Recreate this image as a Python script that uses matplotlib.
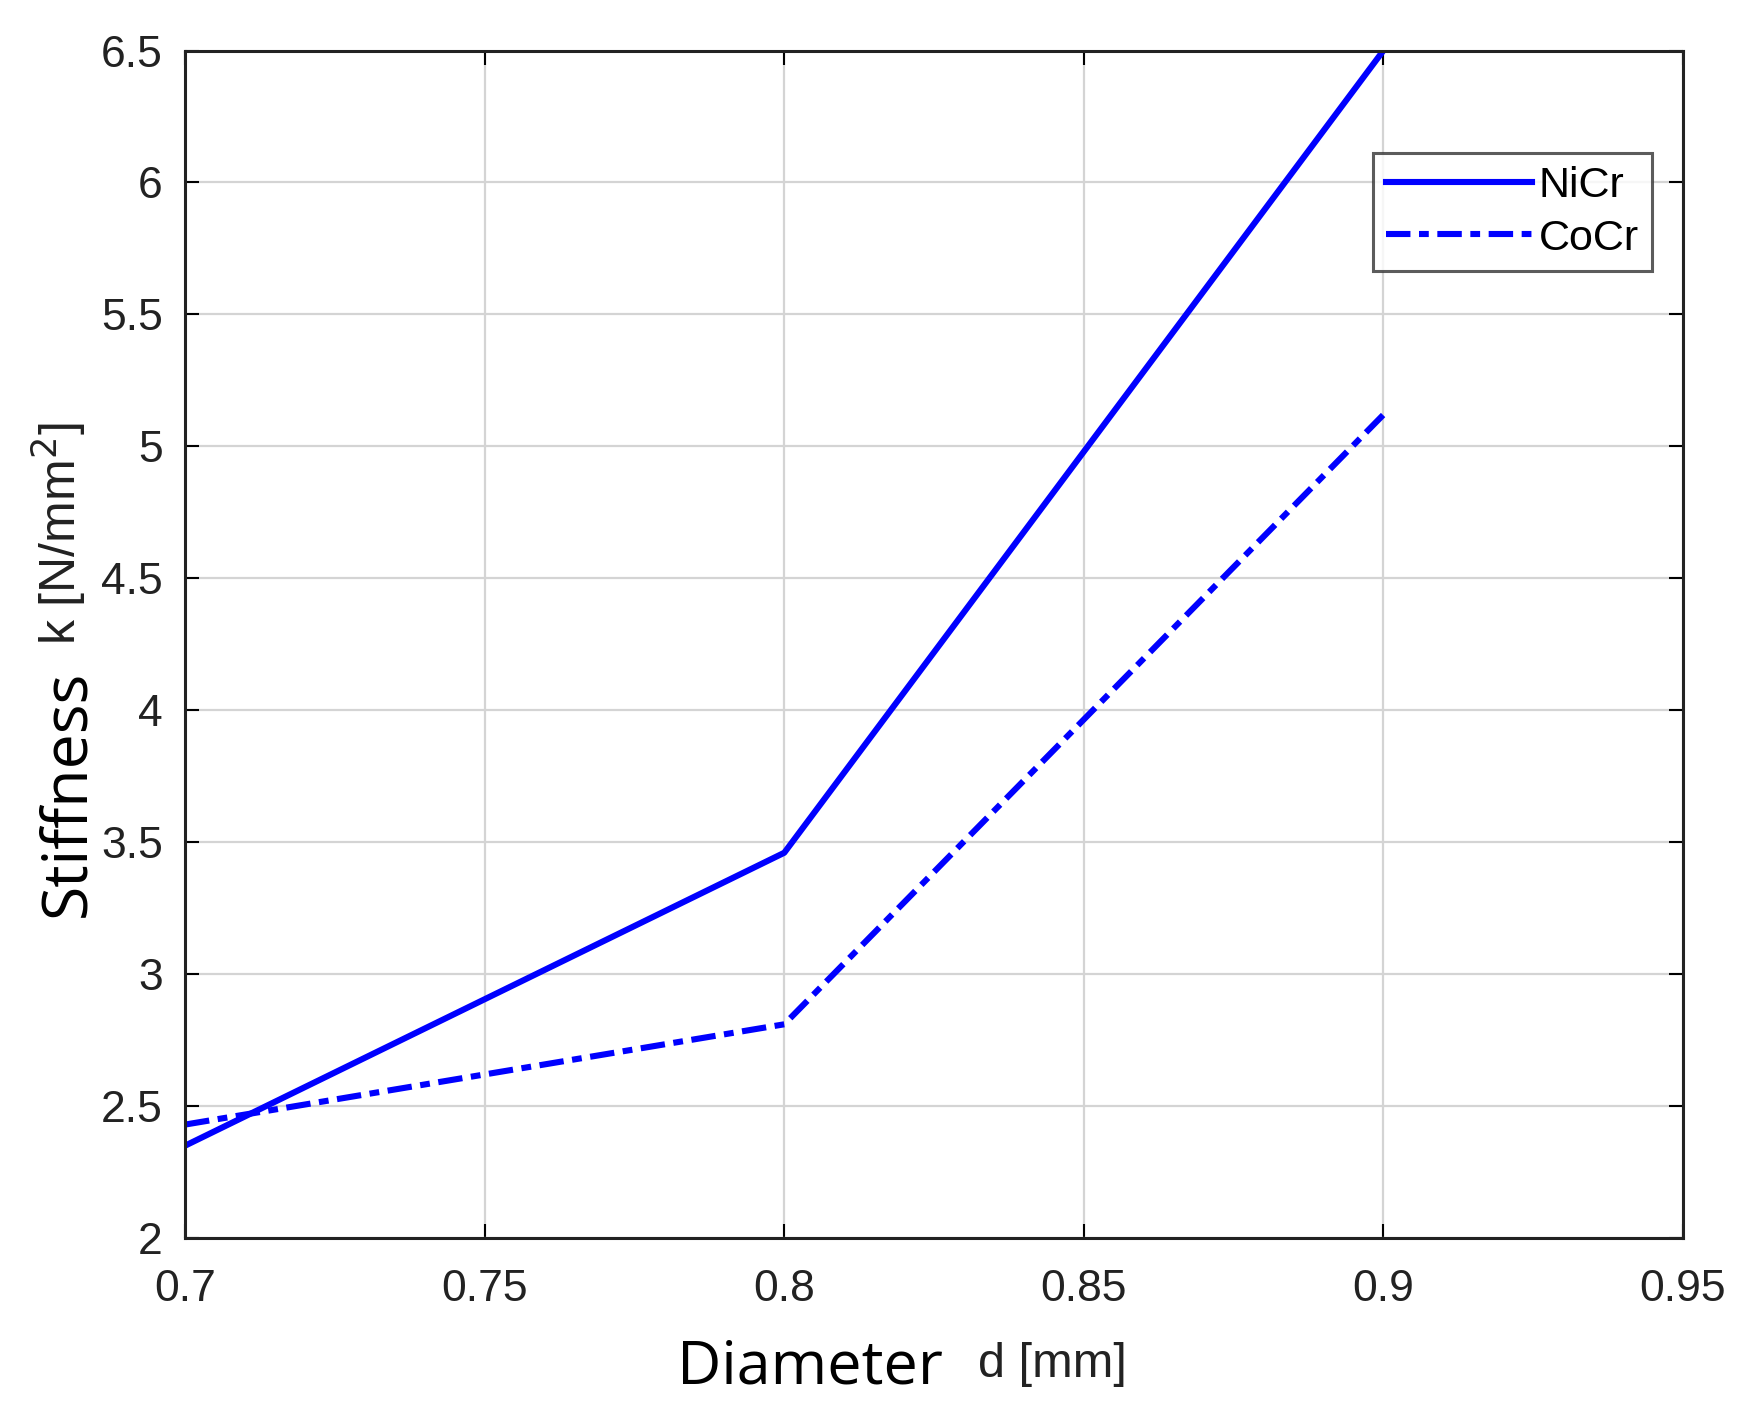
import numpy as np
import matplotlib
matplotlib.use('Agg')
import matplotlib.pyplot as plt

# values
diameter = [0.7, 0.8, 0.9]
k_nicr = [2.35, 3.46, 6.5]
k_cocr = [2.43, 2.81, 5.12]

xticks = [0.7, 0.75, 0.8, 0.85, 0.9, 0.95]
xticklabels = ['0.7', '0.75', '0.8', '0.85', '0.9', '0.95']
yticks = [2, 2.5, 3, 3.5, 4, 4.5, 5, 5.5, 6, 6.5]
yticklabels = ['2', '2.5', '3', '3.5', '4', '4.5', '5', '5.5', '6', '6.5']

plt.rcParams['font.family'] = ['Liberation Sans', 'DejaVu Sans']

fig = plt.figure(figsize=(17.63, 14.12), dpi=100)
ax = fig.add_axes([0.105, 0.1232, 0.8496, 0.841])

ax.plot(diameter, k_nicr, color='#0000ff', lw=4.4, ls='-', label='NiCr')
ax.plot(diameter, k_cocr, color='#0000ff', lw=4.4, ls=(0, (4, 1.4, 1.6, 1.4)), label='CoCr')

ax.set_xlim(0.7, 0.95)
ax.set_ylim(2, 6.5)
ax.set_xticks(xticks)
ax.set_xticklabels(xticklabels)
ax.set_yticks(yticks)
ax.set_yticklabels(yticklabels)
ax.tick_params(direction='in', length=10, width=1.5, labelsize=32, pad=22,
               top=True, right=True, colors='black', labelcolor='#222222')
ax.tick_params(axis='y', pad=16)
ax.grid(True, color='#d4d4d4', lw=1.6)
ax.set_axisbelow(True)
for s in ax.spines.values():
    s.set_linewidth(2.2)
    s.set_color('#222222')

leg = ax.legend(loc='upper right', bbox_to_anchor=(0.979, 0.914), fontsize=31,
                frameon=True, fancybox=False, edgecolor='#333333',
                handlelength=3.4, handletextpad=0.15, borderpad=0.3,
                labelspacing=0.3, borderaxespad=0)
leg.get_frame().set_linewidth(2.2)

# axis labels built from two pieces, as in the original
fig.text(810 / 1763, 1 - 1383 / 1412, 'Diameter', fontsize=44, family='Open Sans',
         ha='center', va='baseline')
fig.text(1052 / 1763, 1 - 1377 / 1412, 'd [mm]', fontsize=35,
         ha='center', va='baseline', color='#222222')
fig.text(84 / 1763, 1 - 793 / 1412, 'Stiffness', fontsize=45, family='Open Sans',
         rotation=90, ha='center', va='baseline', rotation_mode='anchor')
fig.text(58 / 1763, 1 - 534 / 1412, r'k [N/mm$^2$]', fontsize=36,
         rotation=90, ha='center', va='center', color='#222222')

fig.savefig('out.png', dpi=100)
